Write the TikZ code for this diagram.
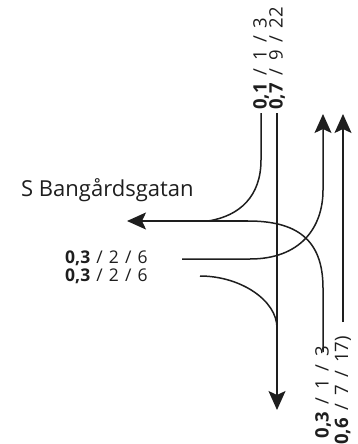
\documentclass[tikz,border=0pt]{standalone}
\usepackage{fontspec}
\setmainfont{Open Sans}
\usetikzlibrary{arrows.meta}
\definecolor{ink}{HTML}{1E1E1E}
\newcommand{\hsep}{\hspace{0.35em}/\hspace{0.35em}}
\newcommand{\vsep}{\hspace{0.42em}/\hspace{0.42em}}
\tikzset{
  road/.style={draw=ink, line width=1.5pt},
  arr/.style={-{Stealth[length=19pt,width=17pt,inset=4pt]}},
  hlbl/.style={font=\fontsize{17.5}{19}\selectfont, text=ink, inner sep=0pt},
  vlbl/.style={font=\fontsize{18.5}{20}\selectfont, text=ink, inner sep=0pt, rotate=90},
  street/.style={font=\fontsize{22}{24}\selectfont, text=ink, inner sep=0pt}
}
\begin{document}
\begin{tikzpicture}[x=1pt,y=-1pt]
\useasboundingbox (0,0) rectangle (357,444);
% coordinates
\coordinate (aTop) at (261,113);
\coordinate (aBend) at (261,160);
\coordinate (wJoin) at (208,221);
\coordinate (wStart) at (248,221);
\coordinate (wEnd) at (127,221);
\coordinate (bTop) at (277,113);
\coordinate (bEnd) at (277,410);
\coordinate (cBot) at (323,352);
\coordinate (cBend) at (323,288);
\coordinate (dStart) at (182,259);
\coordinate (dBend) at (250,259);
\coordinate (dUp) at (323,190);
\coordinate (dEnd) at (323,114);
\coordinate (eStart) at (200,276);
\coordinate (eJoin) at (277,328);
\coordinate (fBot) at (343,322);
\coordinate (fEnd) at (343,114);
% lines
\draw[road] (aTop) -- (aBend) .. controls (261,196) and (240,216) .. (wJoin);
\draw[road,arr] (wStart) -- (wEnd);
\draw[road,arr] (bTop) -- (bEnd);
\draw[road] (cBot) -- (cBend) .. controls (323,238) and (295,221) .. (wStart);
\draw[road,arr] (dStart) -- (dBend) .. controls (300,259) and (323,228) .. (dUp) -- (dEnd);
\draw[road] (eStart) .. controls (240,276) and (277,300) .. (eJoin);
\draw[road,arr] (fBot) -- (fEnd);
% labels
\node[street, anchor=base west] (street) at (21,196) {S Bangårdsgatan};
\node[hlbl, anchor=west] (l1) at (65,258) {\textbf{0,3}\hsep 2\hsep 6};
\node[hlbl, anchor=west] (l2) at (65,276) {\textbf{0,3}\hsep 2\hsep 6};
\node[vlbl, anchor=west] (t1) at (261,110) {\textbf{0,1}\vsep 1\vsep 3};
\node[vlbl, anchor=west] (t2) at (277,110) {\textbf{0,7}\vsep 9\vsep 22};
\node[vlbl, anchor=east] (b1) at (323,346) {\textbf{0,3}\vsep 1\vsep 3};
\node[vlbl, anchor=east] (b2) at (343,336) {(\textbf{0,6}\vsep 7\vsep 17)};
\end{tikzpicture}
\end{document}
